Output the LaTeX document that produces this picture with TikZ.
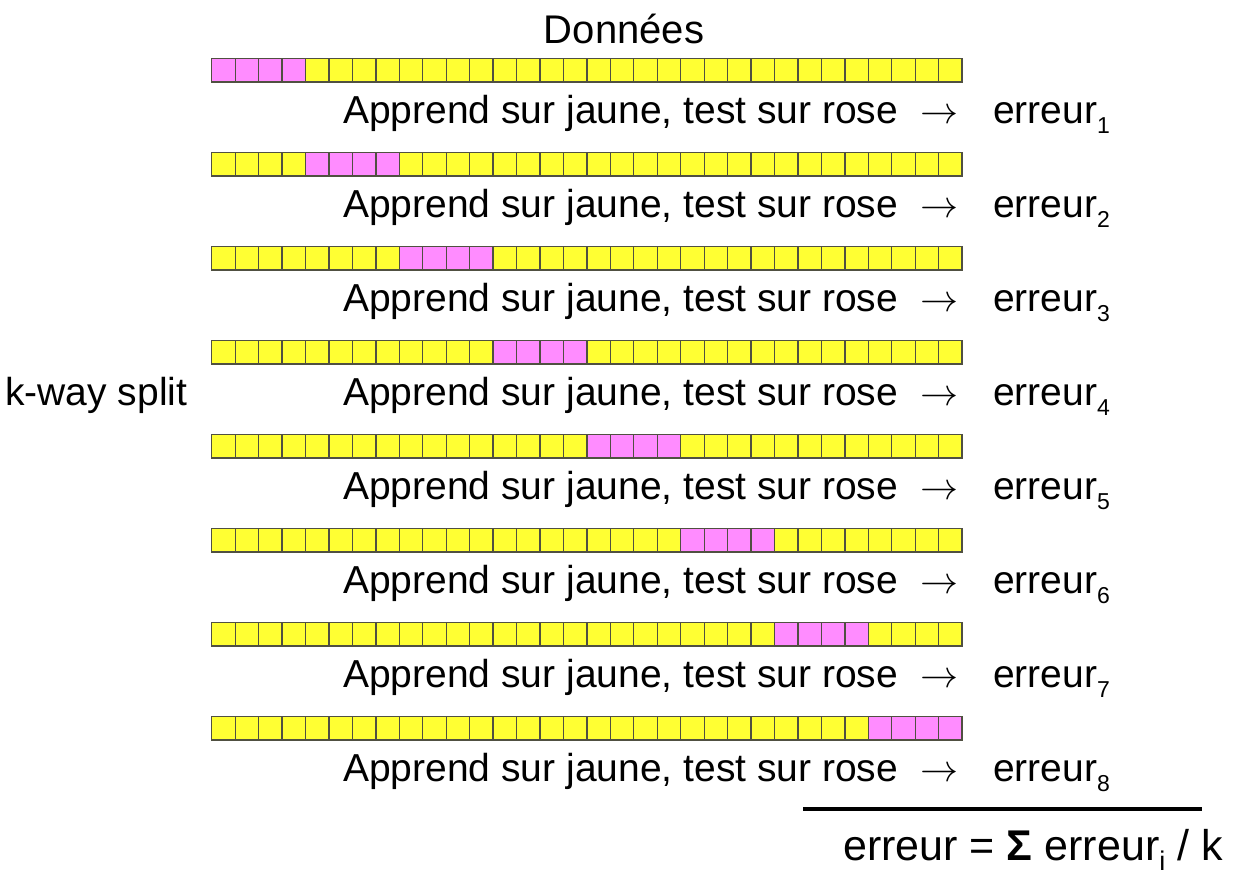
\documentclass[tikz,border=0pt]{standalone}
\usepackage{fontspec}
\usepackage{graphicx}
\setmainfont{Liberation Sans}
\definecolor{cellyellow}{RGB}{255,255,51}
\definecolor{cellpink}{RGB}{255,140,255}
\definecolor{celledge}{RGB}{80,80,65}
% lowered, smaller index after a word
\newcommand\lowsub[2][23]{\raisebox{-10pt}{\fontsize{#1}{#1}\selectfont #2}}
% thin arrow with an open head
\newcommand\thinarrow{\resizebox{38pt}{!}{$\rightarrow$}}
\begin{document}
\begin{tikzpicture}[x=1pt,y=-1pt,
  cell/.style={draw=celledge, line width=1.3pt, minimum width=23.45pt,
    minimum height=23.5pt, inner sep=0, outer sep=0, anchor=north west},
  lbl/.style={inner sep=0, anchor=base west, font=\fontsize{39}{45}\selectfont}]
\useasboundingbox (0,0) rectangle (1243,886);

\node[lbl, anchor=base, font=\fontsize{40}{46}\selectfont] (donnees) at (624,43) {Données};
\node[lbl] (kway) at (5,405) {k-way split};

% eight folds: 32 cells each, the test block of 4 moves right each row
\foreach \r in {1,...,8}{
  \pgfmathsetmacro\rowtop{58.5+94*(\r-1)}
  \pgfmathsetmacro\rowbase{123+94*(\r-1)}
  \pgfmathtruncatemacro\pstart{4*(\r-1)}
  \foreach \i in {0,...,31}{
    \pgfmathtruncatemacro\ispink{and(\i>\pstart-1, \i<\pstart+4)}
    \ifnum\ispink=1 \def\cfill{cellpink}\else\def\cfill{cellyellow}\fi
    \node[cell, fill=\cfill] (c\r-\i) at ({211.7+23.45*\i},\rowtop) {};
  }
  \node[lbl] (learn\r) at (343,\rowbase) {Apprend sur jaune, test sur rose};
  \node[lbl] (arrow\r) at (920,\rowbase) {\thinarrow};
  \node[lbl] (err\r) at (993,\rowbase) {erreur\lowsub{\r}};
}

\coordinate (ruleL) at (803,809);
\coordinate (ruleR) at (1202,809);
\draw[line width=3.5pt] (ruleL) -- (ruleR);
\node[lbl, font=\fontsize{43}{49}\selectfont] (mean) at (843,860)
  {erreur = \textbf{Σ} erreur\lowsub[27]{i} / k};
\end{tikzpicture}
\end{document}
